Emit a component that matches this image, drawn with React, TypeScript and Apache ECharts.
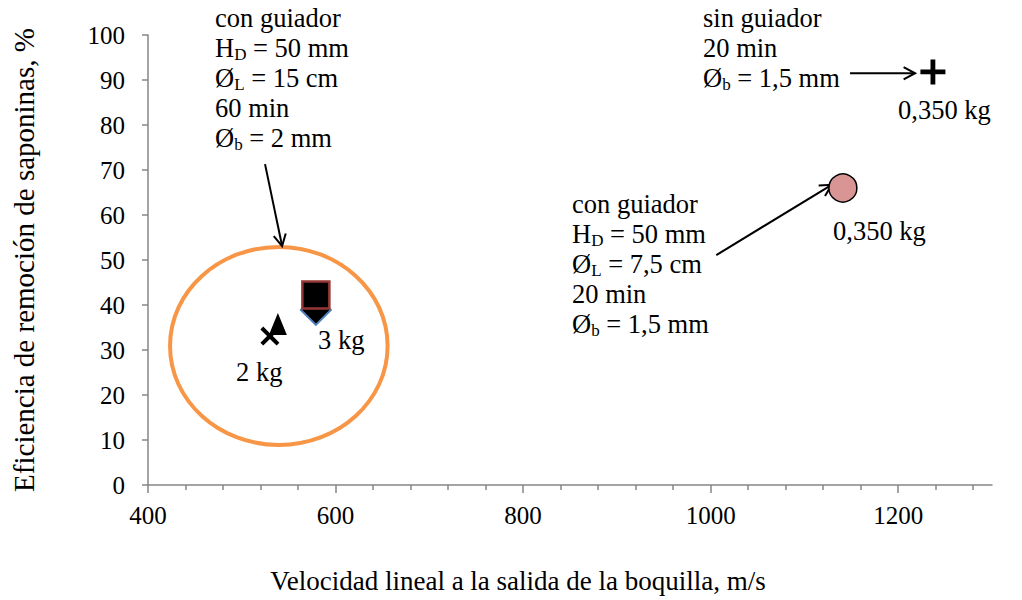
import React, { useEffect, useRef } from "react";
import * as echarts from "echarts";

const SERIF = "'Liberation Serif', 'Times New Roman', serif";

// Axis ticks
const xMajorTicks = [400, 600, 800, 1000, 1200];
const xMinorTicks = [440, 480, 520, 560, 640, 680, 720, 760, 840, 880, 920, 960, 1040, 1080, 1120, 1160, 1240, 1280];

// Data points [velocity m/s, efficiency %]
const crossPoint = [[1237, 91.8]];
const circlePoint = [[1141, 66]];
const diamondPoint = [[579, 38.9]];
const squarePoint = [[579, 42.2]];
const xMarkPoint = [[530, 33.1]];
const trianglePoint = [[538.5, 35.8]];

// Ellipse highlight [cx, cy, rx, ry] in data units
const ellipseData = [[539.5, 30.9, 116, 22]];

// Arrows [x1, y1, x2, y2] in data units
const arrowData = [
  [524.8, 71.3, 543, 53.1],
  [1006, 51.1, 1129, 66.7],
  [1148.6, 91.5, 1218, 91.5],
];

// Annotation texts: "_X" marks a subscript
const noteLeft = ["con guiador", "H_D = 50 mm", "Ø_L = 15 cm", "60 min", "Ø_b = 2 mm"];
const noteTopRight = ["sin guiador", "20 min", "Ø_b = 1,5 mm"];
const noteMiddle = ["con guiador", "H_D = 50 mm", "Ø_L = 7,5 cm", "20 min", "Ø_b = 1,5 mm"];

const rich = {
  n: { fontSize: 26.5, fontFamily: SERIF, lineHeight: 30, fill: "#000" },
  s: { fontSize: 17, fontFamily: SERIF, verticalAlign: "bottom", fill: "#000" },
};

function toRich(lines: string[]) {
  return lines
    .map((line) => {
      const m = line.match(/^(.*?)_(\w)(.*)$/);
      if (!m) return `{n|${line}}`;
      return `{n|${m[1]}}{s|${m[2]}}{n|${m[3]}}`;
    })
    .join("\n");
}

function annotation(x: number, y: number, lines: string[], vAlign = "top") {
  return {
    type: "text",
    x,
    y,
    z: 100,
    style: {
      text: toRich(lines),
      rich,
      fontSize: 26.5,
      fontFamily: SERIF,
      lineHeight: 30,
      fill: "#000",
      align: "left",
      verticalAlign: vAlign,
    },
  };
}

export default function App() {
  const ref = useRef<HTMLDivElement>(null);
  useEffect(() => {
    if (!ref.current) return;
    const chart = echarts.init(ref.current, null, { renderer: "svg" });
    const axisColor = "#868686";
    const option: any = {
      animation: false,
      backgroundColor: "#fff",
      grid: { left: 148, right: 30, top: 35, bottom: 115, outerBoundsMode: "none" },
      xAxis: [
        {
          type: "value",
          min: 400,
          max: 1300,
          interval: 200,
          name: "Velocidad lineal a la salida de la boquilla, m/s",
          nameLocation: "middle",
          nameGap: 82,
          nameTextStyle: { fontFamily: SERIF, fontSize: 27, color: "#000", padding: [0, 104, 0, 0] },
          axisLine: { show: true, lineStyle: { color: axisColor, width: 1.5 } },
          axisTick: { show: true, length: 8, customValues: xMajorTicks, lineStyle: { color: axisColor, width: 1.5 } },
          axisLabel: {
            customValues: xMajorTicks,
            margin: 18,
            fontFamily: SERIF,
            fontSize: 25,
            color: "#000",
            formatter: (v: number) => String(v),
          },
          splitLine: { show: false },
        },
        {
          type: "value",
          min: 400,
          max: 1300,
          position: "bottom",
          axisLine: { show: false },
          axisTick: { show: true, length: 5, customValues: xMinorTicks, lineStyle: { color: axisColor, width: 1.5 } },
          axisLabel: { show: false },
          splitLine: { show: false },
        },
      ],
      yAxis: {
        type: "value",
        min: 0,
        max: 100,
        interval: 10,
        name: "Eficiencia de remoción de saponinas, %",
        nameLocation: "middle",
        nameGap: 110,
        nameTextStyle: { fontFamily: SERIF, fontSize: 29, color: "#000" },
        axisLine: { show: true, lineStyle: { color: axisColor, width: 1.5 } },
        axisTick: { show: true, length: 6, lineStyle: { color: axisColor, width: 1.5 } },
        axisLabel: { margin: 23, fontFamily: SERIF, fontSize: 25, color: "#000" },
        splitLine: { show: false },
      },
      series: [
        {
          type: "custom",
          data: ellipseData,
          z: 1,
          renderItem: (params: any, api: any) => {
            const c = api.coord([api.value(0), api.value(1)]);
            const s = api.size([api.value(2), api.value(3)]);
            return {
              type: "ellipse",
              shape: { cx: c[0], cy: c[1], rx: s[0], ry: s[1] },
              style: { fill: "none", stroke: "#F79646", lineWidth: 4 },
            };
          },
        },
        {
          type: "custom",
          data: arrowData,
          z: 3,
          renderItem: (params: any, api: any) => {
            const p1 = api.coord([api.value(0), api.value(1)]);
            const p2 = api.coord([api.value(2), api.value(3)]);
            const ang = Math.atan2(p2[1] - p1[1], p2[0] - p1[0]);
            const L = 13;
            const a = (28 * Math.PI) / 180;
            const h1 = [p2[0] - L * Math.cos(ang - a), p2[1] - L * Math.sin(ang - a)];
            const h2 = [p2[0] - L * Math.cos(ang + a), p2[1] - L * Math.sin(ang + a)];
            return {
              type: "group",
              children: [
                {
                  type: "line",
                  shape: { x1: p1[0], y1: p1[1], x2: p2[0], y2: p2[1] },
                  style: { stroke: "#000", lineWidth: 2 },
                },
                {
                  type: "polyline",
                  shape: { points: [h1, p2, h2] },
                  style: { stroke: "#000", lineWidth: 2, fill: "none" },
                },
              ],
            };
          },
        },
        {
          type: "scatter",
          data: xMarkPoint,
          symbol: "path://M0,3L3,0L10,7L17,0L20,3L13,10L20,17L17,20L10,13L3,20L0,17L7,10Z",
          symbolSize: 19,
          itemStyle: { color: "#000", opacity: 1 },
          z: 4,
        },
        {
          type: "scatter",
          data: trianglePoint,
          symbol: "triangle",
          symbolSize: [18, 22],
          itemStyle: { color: "#000", opacity: 1 },
          z: 4,
        },
        {
          type: "scatter",
          data: diamondPoint,
          symbol: "diamond",
          symbolSize: 30,
          itemStyle: { color: "#000", borderColor: "#4F81BD", borderWidth: 2, opacity: 1 },
          z: 4,
        },
        {
          type: "scatter",
          data: squarePoint,
          symbol: "rect",
          symbolSize: 27,
          itemStyle: { color: "#000", borderColor: "#953735", borderWidth: 2.5, opacity: 1 },
          z: 5,
        },
        {
          type: "scatter",
          data: circlePoint,
          symbol: "circle",
          symbolSize: 28,
          itemStyle: { color: "#D99594", borderColor: "#000", borderWidth: 1.5, opacity: 1 },
          z: 5,
        },
        {
          type: "scatter",
          data: crossPoint,
          symbol: "path://M0,10.5H26V15.5H0Z M10.5,0H15.5V26H10.5Z",
          symbolSize: 25,
          itemStyle: { color: "#000", opacity: 1 },
          z: 5,
        },
      ],
      graphic: [
        annotation(215, 3, noteLeft),
        annotation(703, 3, noteTopRight),
        annotation(572, 189, noteMiddle),
        annotation(898, 110, ["0,350 kg"], "middle"),
        annotation(833, 231, ["0,350 kg"], "middle"),
        annotation(318, 340, ["3 kg"], "middle"),
        annotation(236, 372, ["2 kg"], "middle"),
      ],
    };
    chart.setOption(option);
    return () => chart.dispose();
  }, []);
  return <div ref={ref} style={{ width: 1022, height: 600, position: "absolute", left: 0, top: 0 }} />;
}
